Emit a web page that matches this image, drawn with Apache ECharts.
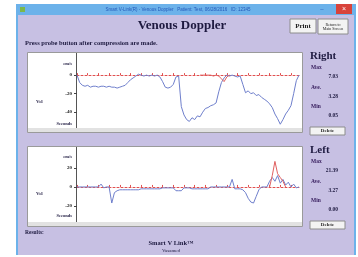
<!DOCTYPE html>
<html>
<head>
<meta charset="utf-8">
<script src="https://cdn.jsdelivr.net/npm/echarts@6/dist/echarts.min.js"></script>
<style>
  html, body { margin: 0; padding: 0; background: #fff; }
  #chart { width: 358px; height: 257px; }
</style>
</head>
<body>
<div id="chart"></div>
<script>
// right leg trace (cm/s), one sample per step
const rightFlow = [0, -8, -11, -12, -11, -13, -12, -12, -13, -12, -12, -13, -12, -13, -13, -14,
  -13, -12, -11, -8, -5, -3, -1, 1, 0, -1, 0, -1, 0, -1, 0, -2, -7, -13, -14, -13, -10, -2, -1,
  -34, -43, -48, -50, -46, -48, -44, -45, -40, -36, -35, -33, -32, -30, -18, -8, -3, 0, -1, 0,
  -1, -2, -1, -10, -19, -17, -20, -19, -22, -21, -24, -26, -28, -31, -35, -42, -47, -53, -48,
  -42, -38, -33, -20, -6, 0];
const rightReverse = [null, null, null, null, null, null, null, null, null, null, null, null,
  null, null, null, null, null, null, null, null, null, null, null, null, null, null, null, null,
  null, null, null, null, null, null, null, null, null, null, null, null, null, null, null, null,
  null, null, 0, 0, 0, 0, 0, -1, 0, -1, -4, -7, -2, 0, null, null, null, null, null, null, null,
  null, null, null, null, null, null, null, null, null, null, null, null, null, null, null, null,
  null, null, null];

// left leg trace
const leftFlow = [0, 0, 0, 0, 0, 0, 0, 0, 0, 3, -1, 0, 0, -17, -6, -4, -3, -3, -3, -3, -3, -3,
  -3, -3, -2, -2, -2, -2, -2, -2, -2, -2, -1, -1, -1, -1, -1, -4, -4, -4, -1, -1, -1, -2, -2,
  -2, -2, -2, -2, -2, 0, 0, 0, 0, 0, 0, 0, 0, 8, -2, -2, -2, -3, -6, -12, -16, -17, -10, -3, 0,
  0, 0, 6, 10, 6, 12, 4, 8, 2, 5, 0, 3, -1, 0];
const leftReverse = [null, null, null, null, null, null, null, null, null, null, null, null,
  null, null, null, null, null, null, null, null, null, null, null, null, null, null, null, null,
  null, null, null, null, null, null, null, null, null, null, null, null, null, null, null, null,
  null, null, null, null, null, null, null, null, null, null, null, null, null, null, null, null,
  null, null, null, null, null, null, null, null, null, null, null, null, 0, 12, 27, 14, 10, 6,
  0, null, null, null, null, null];

const rightTicks = [0, -20, -40];
const leftTicks = [20, 0, -20];
const rightStats = ['7.03', '3.28', '0.05'];
const leftStats = ['21.39', '3.27', '0.00'];

const samples = rightFlow.map((v, i) => String(i));

const chart = echarts.init(document.getElementById('chart'));

const serif = '"Liberation Serif", "DejaVu Serif", serif';
const dark = '#1e1a40';

function txt(x, y, text, size, opts) {
  return Object.assign({
    type: 'text', x: x, y: y,
    style: Object.assign({
      text: text, font: 'bold ' + size + 'px ' + serif, fill: dark,
      textAlign: 'left', textVerticalAlign: 'middle'
    }, (opts && opts.style) || {})
  }, (opts && opts.extra) || {});
}

function button(x, y, w, h, label, size) {
  return [
    { type: 'rect', shape: { x: x, y: y, width: w, height: h },
      style: { fill: '#f3f3f3', stroke: '#8c8c8c', lineWidth: 1 } },
    txt(x + w / 2, y + h / 2, label, size, { style: { textAlign: 'center', fill: '#222' } })
  ];
}

function panel(top, height, side, stats) {
  const els = [
    { type: 'rect', shape: { x: 27.5, y: top + 0.5, width: 275, height: height },
      style: { fill: '#ffffff', stroke: '#9a9a9a', lineWidth: 1 } },
    { type: 'rect', shape: { x: 28, y: top + height - 4, width: 274, height: 4 },
      style: { fill: '#e2e2e2' } },
    { type: 'line', shape: { x1: 76.5, y1: top + 1, x2: 76.5, y2: top + height - 4 },
      style: { stroke: '#555', lineWidth: 1 } },
    txt(310, top + 4, side, 11),
    txt(311, top + 16, 'Max', 5.5, { style: { fill: '#3a2060' } }),
    txt(338, top + 25, stats[0], 5.5, { style: { textAlign: 'right' } }),
    txt(311, top + 36, 'Ave.', 5.5, { style: { fill: '#3a2060' } }),
    txt(338, top + 45, stats[1], 5.5, { style: { textAlign: 'right' } }),
    txt(311, top + 55, 'Min', 5.5, { style: { fill: '#3a2060' } }),
    txt(338, top + 64, stats[2], 5.5, { style: { textAlign: 'right' } })
  ];
  return els.concat(button(310, top + 75, 35, 8, 'Delete', 5));
}

function axisPair(gridIndex, min, max, ticks) {
  return {
    x: {
      type: 'category', gridIndex: gridIndex, data: samples, boundaryGap: false,
      axisLine: { onZero: true, lineStyle: { color: '#e05050', type: [2, 2], width: 1 } },
      axisTick: { show: true, interval: 3, length: 2, inside: true, lineStyle: { color: '#e05050' } },
      axisLabel: { show: false }, splitLine: { show: false }
    },
    y: {
      type: 'value', gridIndex: gridIndex, min: min, max: max,
      axisLine: { show: false },
      axisTick: { show: true, customValues: ticks, length: 3, lineStyle: { color: '#444' } },
      axisLabel: { customValues: ticks, fontSize: 5, color: '#222', margin: 5,
        fontFamily: serif, fontWeight: 'bold' },
      splitLine: { show: false }
    }
  };
}

const up = axisPair(0, -56, 12, rightTicks);
const low = axisPair(1, -36, 38, leftTicks);

function trace(data, idx, color) {
  return {
    type: 'line', xAxisIndex: idx, yAxisIndex: idx, data: data,
    showSymbol: false, connectNulls: false,
    lineStyle: { color: color, width: 1 }, itemStyle: { color: color }, z: 5
  };
}

chart.setOption({
  animation: false,
  backgroundColor: '#ffffff',
  grid: [
    { left: 77, right: 59, top: 64, height: 63 },
    { left: 77, right: 59, top: 151, height: 70 }
  ],
  xAxis: [up.x, low.x],
  yAxis: [up.y, low.y],
  series: [
    trace(rightFlow, 0, '#6f7fcc'),
    trace(rightReverse, 0, '#e06060'),
    trace(leftFlow, 1, '#6f7fcc'),
    trace(leftReverse, 1, '#e06060')
  ],
  graphic: [].concat(
    [
      { type: 'rect', shape: { x: 16, y: 4, width: 340, height: 251 }, style: { fill: '#c7c0e3' } },
      { type: 'rect', shape: { x: 16, y: 4, width: 340, height: 11 }, style: { fill: '#6cb2ea' } },
      { type: 'rect', shape: { x: 16, y: 4, width: 2, height: 251 }, style: { fill: '#6cb2ea' } },
      { type: 'rect', shape: { x: 354, y: 4, width: 2, height: 251 }, style: { fill: '#6cb2ea' } },
      { type: 'rect', shape: { x: 20, y: 7, width: 5, height: 5 }, style: { fill: '#7cb84a' } },
      { type: 'rect', shape: { x: 336, y: 4, width: 16, height: 10 }, style: { fill: '#d8433b' } },
      txt(344, 9, '×', 7, { style: { textAlign: 'center', fill: '#fff', font: '7px sans-serif' } }),
      txt(322, 9, '–', 6, { style: { textAlign: 'center', fill: '#2a5ab8', font: '6px sans-serif' } }),
      txt(178, 9.5, 'Smart V-Link(R) - Venous Doppler   Patient: Test, 06/28/2016   ID: 12345', 4.5,
        { style: { textAlign: 'center', fill: '#2458b8', font: '4.5px sans-serif' } }),
      txt(182, 26, 'Venous Doppler', 13, { style: { textAlign: 'center' } }),
      txt(25, 43, 'Press probe button after compression are made.', 6.5)
    ],
    button(290, 19, 26, 14, 'Print', 7),
    [
      { type: 'rect', shape: { x: 318, y: 19, width: 30, height: 15 },
        style: { fill: '#f3f3f3', stroke: '#8c8c8c', lineWidth: 1 } },
      txt(333, 26.5, 'Return to\nMain Screen', 4,
        { style: { textAlign: 'center', fill: '#222', font: '4px ' + serif } })
    ],
    panel(52, 80, 'Right', rightStats),
    panel(146, 80, 'Left', leftStats),
    [
      txt(72, 64, 'cm/s', 4.5, { style: { textAlign: 'right' } }),
      txt(72, 124, 'Seconds', 4.5, { style: { textAlign: 'right' } }),
      txt(36, 102, 'Vel', 5),
      txt(72, 157, 'cm/s', 4.5, { style: { textAlign: 'right' } }),
      txt(72, 216, 'Seconds', 4.5, { style: { textAlign: 'right' } }),
      txt(36, 194, 'Vel', 5),
      txt(25, 233, 'Results:', 5.5),
      txt(171, 243, 'Smart V Link™', 6.5, { style: { textAlign: 'center' } }),
      txt(171, 251, 'Vasamed', 5, { style: { textAlign: 'center', font: '5px ' + serif } })
    ]
  )
});
</script>
</body>
</html>
